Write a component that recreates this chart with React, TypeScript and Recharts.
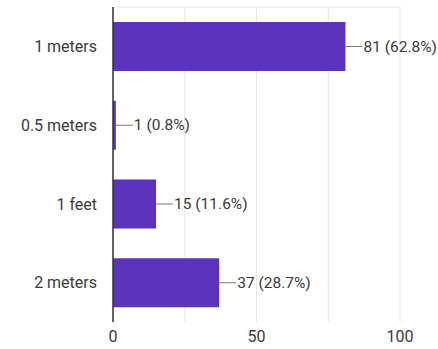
import { Bar, BarChart, CartesianGrid, LabelList, XAxis, YAxis } from 'recharts';

const CATEGORIES = ['1 meters', '0.5 meters', '1 feet', '2 meters'];
const RESPONSES = [81, 1, 15, 37];
// checkbox question: percentages are of people who answered, not of ticks
const RESPONDENTS = 129;
const X_TICKS = [0, 25, 50, 75, 100];
const X_LABELED = [0, 50, 100];

const BAR_COLOR = '#5b33bd';
const TEXT_COLOR = '#3a3a3a';
const FONT = 'Roboto, sans-serif';

const rows = CATEGORIES.map((name, i) => ({ name, value: RESPONSES[i] }));

// leader line from the bar end, then "count (percent)"
function ValueLabel(props: any) {
  const { x, y, width, height, value } = props;
  const x0 = Number(x) + Number(width);
  const cy = Number(y) + Number(height) / 2;
  const pct = ((value / RESPONDENTS) * 100).toFixed(1);
  return (
    <g>
      <line x1={x0} y1={cy} x2={x0 + 17} y2={cy} stroke='#777' strokeWidth={1} />
      <text
        x={x0 + 18}
        y={cy}
        dominantBaseline='central'
        fill={TEXT_COLOR}
        fontSize={15.5}
        fontFamily={FONT}
      >
        {`${value} (${pct}%)`}
      </text>
    </g>
  );
}

export default function App() {
  return (
    <div style={{ position: 'absolute', left: 0, top: 0, background: '#fff' }}>
      <BarChart
        width={438}
        height={349}
        data={rows}
        layout='vertical'
        margin={{ top: 7, right: 38, bottom: 0, left: 0 }}
      >
        <CartesianGrid stroke='#e6e6e6' horizontalPoints={[7]} />
        <XAxis
          type='number'
          domain={[0, 100]}
          ticks={X_TICKS}
          tickFormatter={(v) => (X_LABELED.includes(v) ? String(v) : '')}
          axisLine={false}
          tickLine={false}
          tickSize={0}
          tickMargin={9}
          height={27}
          tick={{ fill: TEXT_COLOR, fontSize: 16, fontFamily: FONT }}
        />
        <YAxis
          type='category'
          dataKey='name'
          width={113}
          tickLine={false}
          tickSize={0}
          tickMargin={16}
          axisLine={{ stroke: '#333', strokeWidth: 1.5 }}
          tick={{ fill: TEXT_COLOR, fontSize: 16, fontFamily: FONT }}
        />
        <Bar dataKey='value' fill={BAR_COLOR} barSize={49} isAnimationActive={false}>
          <LabelList dataKey='value' content={ValueLabel} />
        </Bar>
      </BarChart>
    </div>
  );
}
